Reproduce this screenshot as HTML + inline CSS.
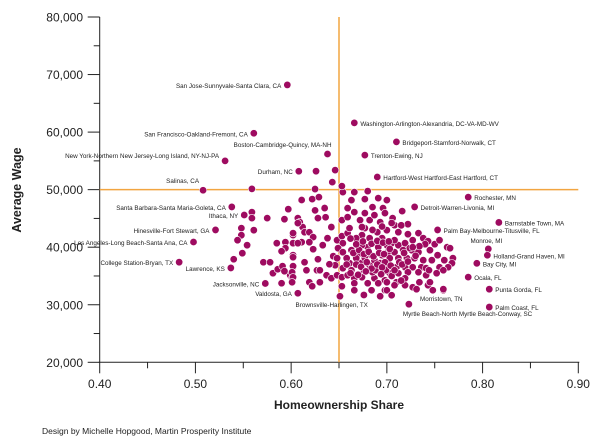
<!DOCTYPE html>
<html><head><meta charset="utf-8"><style>
html,body{margin:0;padding:0;background:#fff;}
svg{display:block;font-family:"Liberation Sans",Arial,sans-serif;}
</style></head><body>
<svg id="chart" width="600" height="443" viewBox="0 0 600 443"></svg>
<script>
const labelNames = ["San Jose-Sunnyvale-Santa Clara, CA","San Francisco-Oakland-Fremont, CA","Boston-Cambridge-Quincy, MA-NH","New York-Northern New Jersey-Long Island, NY-NJ-PA","Durham, NC","Salinas, CA","Santa Barbara-Santa Maria-Goleta, CA","Ithaca, NY","Hinesville-Fort Stewart, GA","Los Angeles-Long Beach-Santa Ana, CA","College Station-Bryan, TX","Lawrence, KS","Jacksonville, NC","Valdosta, GA","Brownsville-Harlingen, TX","Washington-Arlington-Alexandria, DC-VA-MD-WV","Bridgeport-Stamford-Norwalk, CT","Trenton-Ewing, NJ","Hartford-West Hartford-East Hartford, CT","Rochester, MN","Detroit-Warren-Livonia, MI","Barnstable Town, MA","Palm Bay-Melbourne-Titusville, FL","Monroe, MI","Holland-Grand Haven, MI","Bay City, MI","Ocala, FL","Punta Gorda, FL","Morristown, TN","Palm Coast, FL","Myrtle Beach-North Myrtle Beach-Conway, SC"];
const labelHs = [0.596,0.561,0.638,0.531,0.608,0.508,0.538,0.551,0.521,0.498,0.483,0.537,0.573,0.607,0.676,0.666,0.710,0.677,0.690,0.785,0.729,0.817,0.753,0.806,0.805,0.794,0.785,0.807,0.759,0.807,0.723];
const labelWage = [68200,59800,56200,55000,53200,49900,47000,45600,43000,40900,37400,36400,33700,32000,31700,61600,58300,56000,52200,48700,47000,44300,43000,39700,38600,37200,34800,32700,32700,29600,30100];
const hs = [0.625,0.611,0.622,0.629,0.625,0.635,0.628,0.636,0.607,0.609,0.612,0.642,0.614,0.619,0.623,0.602,0.638,0.633,0.611,0.619,0.623,0.648,0.653,0.659,0.654,0.649,0.644,0.654,0.663,0.602,0.653,0.659,0.659,0.666,0.654,0.666,0.680,0.663,0.677,0.691,0.700,0.685,0.672,0.682,0.693,0.677,0.690,0.700,0.674,0.682,0.695,0.670,0.680,0.691,0.700,0.672,0.684,0.695,0.703,
0.602,0.614,0.616,0.628,0.627,0.630,0.619,0.622,0.630,0.637,0.642,0.648,0.653,0.646,0.654,0.653,0.663,0.666,0.674,0.680,0.687,0.691,0.698,0.698,0.661,0.672,0.682,0.693,0.685,0.599,0.601,
0.716,0.700,0.712,0.722,0.722,0.733,0.738,0.705,0.712,0.719,0.727,0.743,0.740,0.763,0.766,0.701,0.708,0.717,0.726,0.733,0.745,0.753,0.760,0.769,0.768,0.703,0.712,0.721,0.729,0.738,0.747,0.755,0.764,0.701,0.710,0.719,0.727,0.736,0.741,0.703,0.712,0.722,0.733,0.741,0.700,0.710,0.719,0.727,0.731,0.743,0.748,0.759,0.700,0.705,0.696,0.752,0.759,0.745,
0.559,0.559,0.559,0.575,0.593,0.597,0.607,0.548,0.548,0.561,0.544,0.554,0.549,0.540,0.585,0.594,0.594,0.590,0.602,0.602,0.607,0.602,0.571,0.578,0.581,0.586,0.591,0.593,0.602,0.601,0.602,0.601,0.590,0.643,0.653,0.626,0.646,
0.661,0.668,0.674,0.658,0.668,0.677,0.687,0.698,0.708,0.713,0.666,0.659,0.676,0.688,0.699,0.708,0.719,0.724,0.734,0.750,0.755,0.744,0.734,0.708,0.687,0.698,0.706,0.677,0.640,0.648,0.666,0.684,0.693,0.651,
0.665,0.671,0.676,0.681,0.686,0.692,0.697,0.703,0.668,0.675,0.684,0.690,0.696,0.702,0.668,0.673,0.679,0.684,0.690,0.695,0.704,0.662,0.670,0.678,0.694,0.705,0.715,0.716,0.722,0.718,0.730,0.727,0.674,0.685,0.695,0.705,0.715,0.658,0.662,0.708];
const wage = [50100,48200,48350,48700,46400,46800,45050,45200,45050,44350,43500,43500,42600,42600,41750,42100,41570,40350,40870,40870,39650,41220,41920,42440,40700,39830,38440,39130,39480,38610,44700,45220,46790,46090,49570,49570,49750,48180,48350,48530,48180,46960,44700,44700,44350,43310,42610,42960,42090,41570,41570,40700,40000,40000,40350,38960,38610,38610,38260,
36520,37390,36000,37910,36000,36000,33910,33220,33910,35130,34610,35130,34780,36870,36350,33220,36000,34610,34780,33740,34610,33740,34260,32520,37220,37220,36870,37220,35650,35130,34610,
46270,42960,42610,44000,42260,42440,41570,40700,40350,40700,41220,41050,40520,40000,39830,39130,39130,39480,39480,39130,39480,38610,37740,38090,37220,38090,38090,38090,38090,37740,37740,36520,36520,36870,36520,36520,36520,36520,36350,35480,35480,35650,35650,35130,33910,33910,33390,33040,32700,33390,32520,32520,32520,31650,46790,35480,36000,33910,
50130,46090,45050,45050,44870,46610,44180,43310,42090,42960,41220,40350,38960,37910,40700,40870,39830,39300,42440,40700,40700,38260,37390,37390,35480,36170,36700,35830,36700,35650,34780,33910,33740,51310,50610,53210,53390,
43310,41570,40350,38090,38090,38090,37740,37390,41220,37390,33740,35130,36000,36000,36000,33390,34610,39830,40180,40520,41220,36000,33910,43830,45570,45920,45050,45920,37040,38090,32520,32520,31480,31480,
39000,39500,38800,39200,38400,39000,38800,39700,40500,41000,40600,41100,40800,41000,37000,36600,37400,36300,37000,36500,36800,35500,35200,35800,35300,35000,34200,37000,37500,39000,38500,40000,43500,43000,43600,44200,43800,37000,41500,36000];
const xTicks = [0.40,0.50,0.60,0.70,0.80,0.90];
const yTicks = [20000,30000,40000,50000,60000,70000,80000];
const xRef = 0.65, yRef = 50000;
/* label placement: [dx, dy, anchor] (style only) */
const labelPos = [[-6,3,"end"],[-6,3,"end"],[4,-7,"end"],[-6,-3,"end"],[-6,3,"end"],[-4,-7,"end"],[-6,3,"end"],[-6,3,"end"],[-6,3,"end"],[-6,3,"end"],[-6,3,"end"],[-6,3,"end"],[-6,3,"end"],[-6,3,"end"],[4,12,"end"],[6,3,"start"],[6,3,"start"],[6,3,"start"],[6,3,"start"],[6,3,"start"],[6,3,"start"],[6,3,"start"],[6,3,"start"],[14,-6,"end"],[6,3,"start"],[6,3,"start"],[6,3,"start"],[6,3,"start"],[-2,12,"middle"],[6,3,"start"],[-6,12,"start"]];

const X0=99.7, X1=578.3, Y0=362.3, Y1=17;
function sx(v){return X0+(v-0.4)/(0.9-0.4)*(X1-X0);}
function sy(v){return Y0-(v-20000)/(80000-20000)*(Y0-Y1);}
const NS="http://www.w3.org/2000/svg";
const svg=document.getElementById('chart');
function mk(t,a,p){const e=document.createElementNS(NS,t);for(const k in a)e.setAttribute(k,a[k]);(p||svg).appendChild(e);return e;}

const ax=mk('g',{});


mk('line',{x1:X0,y1:Y1,x2:X0,y2:Y0,stroke:'#222','stroke-width':1},ax);
mk('line',{x1:X0-1,y1:Y0,x2:X1+1,y2:Y0,stroke:'#222','stroke-width':1},ax);
for(let v=20000;v<=80000;v+=5000){const y=sy(v);const maj=v%10000===0;
 mk('line',{x1:maj?X0-12:X0-6,y1:y,x2:X0,y2:y,stroke:'#222','stroke-width':1},ax);}
yTicks.forEach(v=>{const t=mk('text',{x:83,y:sy(v)+4.5,'text-anchor':'end','font-size':12,fill:'#222'},ax);
 
 
 t.textContent=v.toLocaleString('en-US');});
for(let v=0.40;v<=0.9001;v+=0.05){const x=sx(v);const maj=Math.round(v*100)%10===0;
 mk('line',{x1:x,y1:Y0,x2:x,y2:maj?Y0+11:Y0+6,stroke:'#222','stroke-width':1},ax);}
xTicks.forEach(v=>{const t=mk('text',{x:sx(v),y:388,'text-anchor':'middle','font-size':12,fill:'#222'},ax);
 
 
 t.textContent=v.toFixed(2);});
const rv=mk('line',{x1:sx(xRef),y1:Y1,x2:sx(xRef),y2:Y0,stroke:'#f2a541','stroke-width':1.5});


const rh=mk('line',{x1:X0,y1:sy(yRef),x2:X1,y2:sy(yRef),stroke:'#f2a541','stroke-width':1.5});



const dg=mk('g',{});


function dot(x,y){const c=mk('circle',{cx:sx(x),cy:sy(y),r:3.7,fill:'#9e0b60',stroke:'#fff','stroke-width':0.6},dg);
 
 }
for(let i=0;i<hs.length;i++)dot(hs[i],wage[i]);
for(let i=0;i<labelHs.length;i++)dot(labelHs[i],labelWage[i]);
const lg=mk('g',{});


for(let i=0;i<labelNames.length;i++){const p=labelPos[i];
 const t=mk('text',{x:sx(labelHs[i])+p[0],y:sy(labelWage[i])+p[1],'text-anchor':p[2],'font-size':6.3,fill:'#222'},lg);
 
 
 t.textContent=labelNames[i];}

const yt=mk('text',{x:0,y:0,transform:'translate(21,190) rotate(-90)','text-anchor':'middle','font-size':12.5,'font-weight':'bold',fill:'#222'});


yt.textContent='Average Wage';
const xt=mk('text',{x:339,y:409,'text-anchor':'middle','font-size':12,'font-weight':'bold',fill:'#222'});


xt.textContent='Homeownership Share';
const cr=mk('text',{x:42,y:434,'font-size':8.5,fill:'#222'});


cr.textContent='Design by Michelle Hopgood, Martin Prosperity Institute';
</script>
</body></html>
